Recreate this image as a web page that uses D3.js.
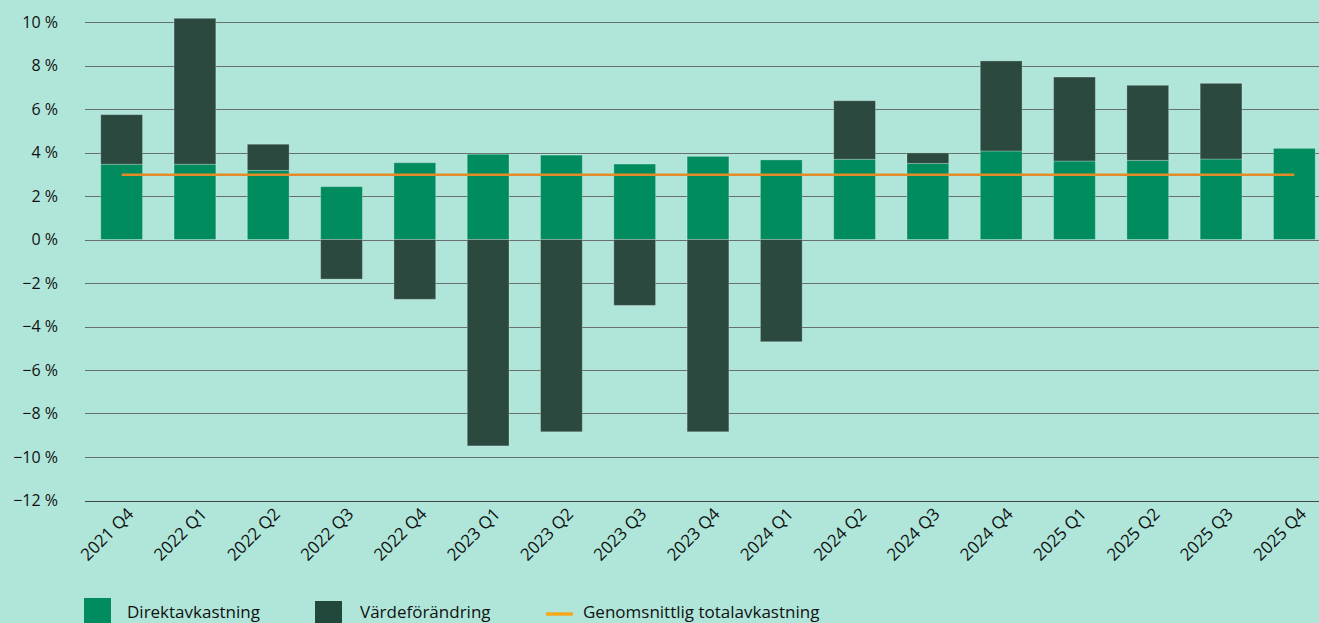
<!DOCTYPE html>
<html>
<head>
<meta charset="utf-8">
<script src="https://cdn.jsdelivr.net/npm/d3@7"></script>
<style>
    body { margin: 0; background: #b0e6da; overflow: hidden; }
    svg { display: block; font-family: "Open Sans", "Noto Sans", sans-serif; }
</style>
</head>
<body>
<svg id="chart"></svg>
<script>
// quarters on the x axis
const quarters = ["2021 Q4", "2022 Q1", "2022 Q2", "2022 Q3", "2022 Q4", "2023 Q1", "2023 Q2",
    "2023 Q3", "2023 Q4", "2024 Q1", "2024 Q2", "2024 Q3", "2024 Q4", "2025 Q1", "2025 Q2",
    "2025 Q3", "2025 Q4"];

// series values in percent
const direktavkastning = [3.46, 3.46, 3.18, 2.43, 3.53, 3.92, 3.88, 3.47, 3.82, 3.66, 3.69, 3.50, 4.07, 3.61, 3.64, 3.70, 4.19];
const vardeforandring = [2.28, 6.71, 1.20, -1.82, -2.75, -9.49, -8.84, -3.03, -8.84, -4.70, 2.69, 0.48, 4.14, 3.86, 3.45, 3.48, 0];
const genomsnitt = 2.98;

const yTicks = [-12, -10, -8, -6, -4, -2, 0, 2, 4, 6, 8, 10];

function main() {
    let width = 1319;
    let height = 623;

    let svg = d3.select("#chart")
        .attr("width", width)
        .attr("height", height);

    svg.append("rect")
        .attr("width", width)
        .attr("height", height)
        .attr("fill", "#b0e6da");

    // plot area runs a bit past the right edge of the window, like the original
    let x = d3.scaleBand()
        .domain(quarters)
        .range([85, 1331])
        .paddingInner(0.43)
        .paddingOuter(0.215);

    let y = d3.scaleLinear()
        .domain([-12, 10])
        .range([500.5, 22]);

    // gridlines
    svg.append("g")
        .selectAll("line")
        .data(yTicks)
        .join("line")
        .attr("x1", 85)
        .attr("x2", width)
        .attr("y1", d => Math.round(y(d)) + 0.5)
        .attr("y2", d => Math.round(y(d)) + 0.5)
        .attr("stroke", d => d === -12 ? "#3f4845" : "#66716e")
        .attr("stroke-width", 1.2);

    // y axis labels
    svg.append("g")
        .selectAll("text")
        .data(yTicks)
        .join("text")
        .attr("x", 58)
        .attr("y", d => y(d))
        .attr("dy", "0.35em")
        .attr("text-anchor", "end")
        .attr("font-size", 16)
        .attr("fill", "#111")
        .text(d => (d < 0 ? "\u2212" + Math.abs(d) : d) + " %");

    // stacked data
    let rows = quarters.map((q, i) => ({
        quarter: q,
        direkt: direktavkastning[i],
        varde: vardeforandring[i]
    }));
    let stack = d3.stack()
        .keys(["direkt", "varde"])
        .offset(d3.stackOffsetDiverging);
    let series = stack(rows);
    let colors = { direkt: "#008c5e", varde: "#2b493e" };

    svg.append("g")
        .selectAll("g")
        .data(series)
        .join("g")
        .attr("fill", s => colors[s.key])
        .selectAll("rect")
        .data(s => s)
        .join("rect")
        .filter(d => d[1] - d[0] !== 0)
        .attr("x", d => x(d.data.quarter))
        .attr("y", d => y(d[1]))
        .attr("width", x.bandwidth())
        .attr("height", d => y(d[0]) - y(d[1]))
        .attr("stroke", "rgba(255,255,255,0.25)")
        .attr("stroke-width", 1);

    // average line from first to last bar centre
    let half = x.bandwidth() / 2;
    svg.append("line")
        .attr("x1", x(quarters[0]) + half)
        .attr("x2", x(quarters[quarters.length - 1]) + half)
        .attr("y1", y(genomsnitt))
        .attr("y2", y(genomsnitt))
        .attr("stroke", "#e38b28")
        .attr("stroke-width", 2.5);

    // x labels rotated
    svg.append("g")
        .selectAll("text")
        .data(quarters)
        .join("text")
        .attr("text-anchor", "end")
        .attr("font-size", 17)
        .attr("fill", "#111")
        .attr("transform", d => `translate(${x(d) + half + 13}, ${515}) rotate(-45)`)
        .text(d => d);

    // legend
    let legend = svg.append("g");
    legend.append("rect").attr("x", 84).attr("y", 598).attr("width", 27).attr("height", 30).attr("fill", "#008c5e");
    legend.append("text").attr("x", 127).attr("y", 618).attr("font-size", 17).attr("fill", "#111").text("Direktavkastning");
    legend.append("rect").attr("x", 315).attr("y", 601).attr("width", 27).attr("height", 30).attr("fill", "#22473b");
    legend.append("text").attr("x", 360).attr("y", 618).attr("font-size", 17).attr("fill", "#111").text("Värdeförändring");
    legend.append("line").attr("x1", 546).attr("x2", 573).attr("y1", 614).attr("y2", 614)
        .attr("stroke", "#f5a81c").attr("stroke-width", 3.5);
    legend.append("text").attr("x", 583).attr("y", 618).attr("font-size", 17).attr("fill", "#111").text("Genomsnittlig totalavkastning");
}

main();
</script>
</body>
</html>
